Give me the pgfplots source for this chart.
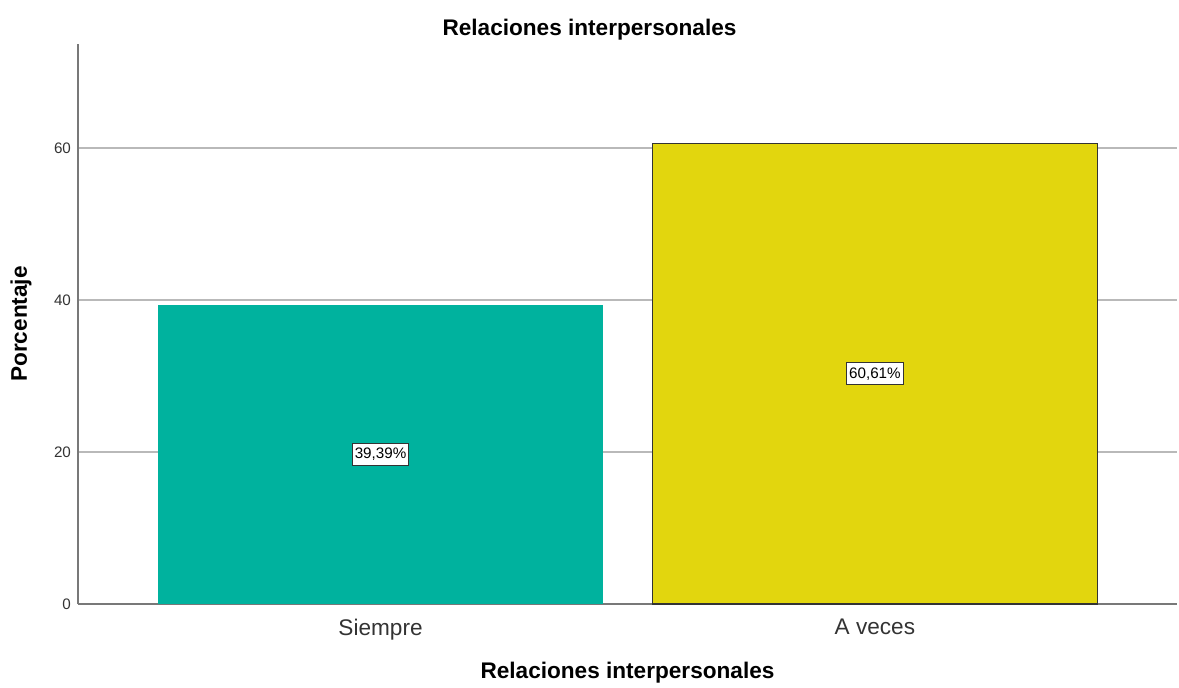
\documentclass[border=0pt]{standalone}
\usepackage{pgfplots}
\pgfplotsset{compat=1.18}
\usepackage{fontspec}
\setmainfont{Liberation Sans}

\definecolor{barteal}{RGB}{0,178,158}
\definecolor{baryellow}{RGB}{226,214,14}
\definecolor{axgray}{RGB}{120,120,120}
\definecolor{gridgray}{RGB}{185,185,185}

\begin{document}
\begin{tikzpicture}
\path[use as bounding box] (0,0) rectangle (589.5pt,343.5pt);
\node[font=\fontsize{11.3}{13}\selectfont\bfseries] at (294.75pt,328.5pt) {Relaciones interpersonales};
\begin{axis}[
    at={(39pt,41.5pt)},
    anchor=south west,
    scale only axis,
    width=549.5pt,
    height=280pt,
    xmin=-0.612, xmax=1.611,
    ymin=0, ymax=73.68,
    axis x line=bottom,
    axis y line=left,
    axis line style={axgray, line width=0.8pt, -},
    xtick={0,1},
    xticklabels={Siempre, A veces},
    ytick={0,20,40,60},
    major tick length=0pt,
    ymajorgrids,
    grid style={gridgray, line width=0.6pt},
    x tick label style={font=\fontsize{11.3}{13}\selectfont, text=black!80, yshift=-4pt},
    y tick label style={font=\fontsize{7.6}{9}\selectfont, text=black!80},
    /pgf/number format/assume math mode=true,
    xlabel={Relaciones interpersonales},
    ylabel={Porcentaje},
    xlabel style={font=\fontsize{11.3}{13}\selectfont\bfseries, at={(axis description cs:0.5,0)}, anchor=center, yshift=-34.5pt},
    ylabel style={font=\fontsize{11.3}{13}\selectfont\bfseries, at={(axis description cs:0,0.5)}, anchor=center, yshift=28.5pt},
    ybar,
    bar width=0.9,
]
\addplot[fill=barteal, draw=none, bar shift=0] coordinates {(0,39.39)};
\addplot[fill=baryellow, draw=black!80, line width=0.6pt, bar shift=0] coordinates {(1,60.61)};
\node[draw=black!80, fill=white, line width=0.5pt, inner xsep=1.2pt, inner ysep=2.3pt, font=\fontsize{7.6}{9}\selectfont] at (axis cs:0,19.695) {39,39\%};
\node[draw=black!80, fill=white, line width=0.5pt, inner xsep=1.2pt, inner ysep=2.3pt, font=\fontsize{7.6}{9}\selectfont] at (axis cs:1,30.305) {60,61\%};
\end{axis}
\end{tikzpicture}
\end{document}
